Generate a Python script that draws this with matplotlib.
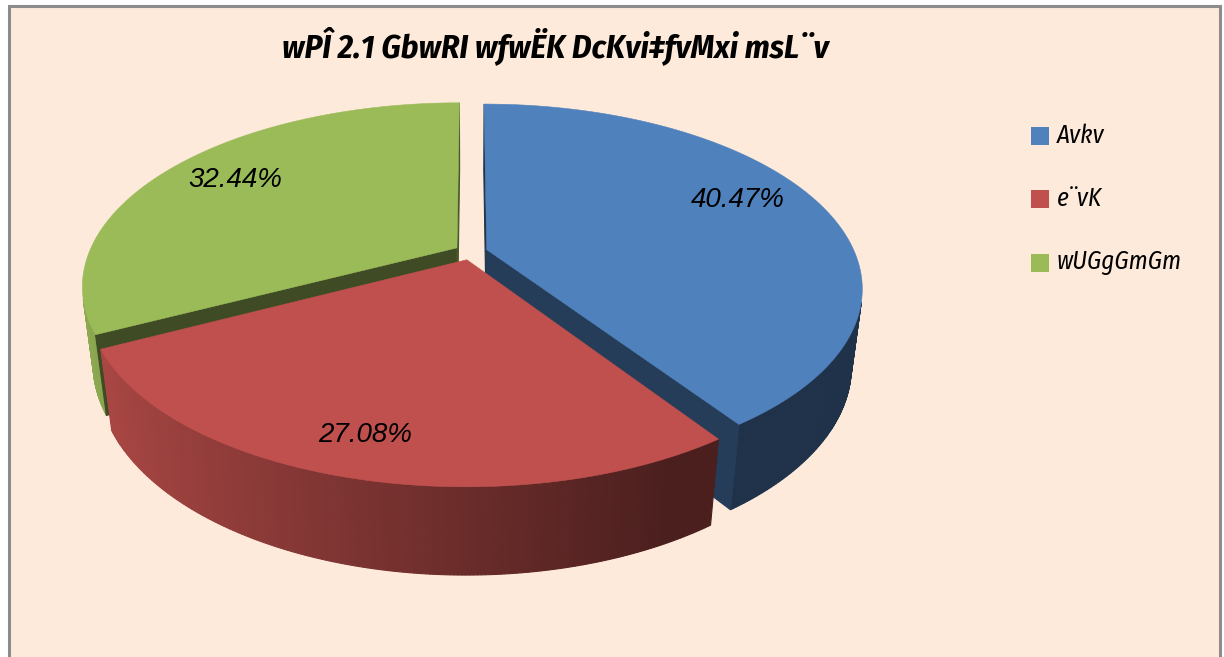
import numpy as np
import matplotlib.pyplot as plt
from matplotlib.patches import Polygon, Rectangle
from matplotlib.colors import to_rgb

# chart data (text is Bijoy-encoded Bangla, kept as it appears)
title = "wPÎ 2.1 GbwRI wfwËK DcKvi‡fvMxi msL¨v"
names = ["Avkv", "e¨vK", "wUGgGmGm"]
shares = [40.47, 27.08, 32.44]
colors = ["#4F81BD", "#C0504D", "#9BBB59"]
pct_labels = ["40.47%", "27.08%", "32.44%"]

# layout / camera (pixel space of the 1224x657 canvas)
CX, CY = 471, 252
FOC, DIST = 1563, 4.25
PHI = np.arcsin(0.48)
THICK = 0.242
EXPLODE = 0.045
label_xy = [(738, 200), (365, 435), (235, 180)]
NARROW = ["Fira Sans Condensed", "Liberation Sans", "DejaVu Sans"]
PLAIN = ["Liberation Sans", "DejaVu Sans"]


def project(X, Y, Z):
    s, c = np.sin(PHI), np.cos(PHI)
    v = Y * s + Z * c
    d = DIST + Y * c - Z * s
    return CX + FOC * X / d, CY - FOC * v / d


def area(pts):
    x, y = pts[:, 0], pts[:, 1]
    return 0.5 * np.sum(x * np.roll(y, -1) - np.roll(x, -1) * y)


def shade(col, k):
    return tuple(np.clip(np.array(to_rgb(col)) * k, 0, 1))


def side_k(theta):
    return np.clip(0.553 + 0.367 * np.cos(np.radians(theta - 270)), 0.39, 1.0)


fig = plt.figure(figsize=(12.24, 6.57), dpi=100)
fig.patch.set_facecolor("white")
ax = fig.add_axes([0, 0, 1, 1])
ax.set_xlim(0, 1224)
ax.set_ylim(657, 0)
ax.axis("off")

ax.add_patch(Rectangle((8.5, 5.5), 1211, 700, fc="#FDEADA", ec="#8C8C8C", lw=2.2, zorder=0))

fr = np.array(shares) / np.sum(shares)
edges = np.concatenate([[0], np.cumsum(fr) * 360])

slices = []
for i in range(len(shares)):
    t0, t1 = edges[i], edges[i + 1]
    tm = np.radians((t0 + t1) / 2)
    ox, oy = EXPLODE * np.sin(tm), EXPLODE * np.cos(tm)
    slices.append((oy, i, t0, t1, ox))

# paint farthest slices first
for oy, i, t0, t1, ox in sorted(slices, reverse=True):
    col = colors[i]
    ts = np.linspace(t0, t1, max(int(t1 - t0), 2) * 2)
    tr = np.radians(ts)
    X, Y = ox + np.sin(tr), oy + np.cos(tr)

    def P(x, y, z):
        return np.array(project(x, y, z))

    top = np.array([P(ox, oy, 0)] + [P(a, b, 0) for a, b in zip(X, Y)])
    ref = np.sign(area(top))
    faces = []
    # curved outer side
    for j in range(len(ts) - 1):
        q = np.array([P(X[j], Y[j], 0), P(X[j], Y[j], -THICK),
                      P(X[j + 1], Y[j + 1], -THICK), P(X[j + 1], Y[j + 1], 0)])
        faces.append((q, shade(col, side_k((ts[j] + ts[j + 1]) / 2))))
    # radial faces
    q0 = np.array([P(ox, oy, 0), P(ox, oy, -THICK), P(X[0], Y[0], -THICK), P(X[0], Y[0], 0)])
    q1 = np.array([P(ox, oy, 0), P(X[-1], Y[-1], 0), P(X[-1], Y[-1], -THICK), P(ox, oy, -THICK)])
    faces.append((q0, shade(col, 0.40)))
    faces.append((q1, shade(col, 0.47)))
    for q, fc in faces:
        if np.sign(area(q)) == ref and abs(area(q)) > 1e-3:
            ax.add_patch(Polygon(q, closed=True, fc=fc, ec=fc, lw=0.8, zorder=2))
    ax.add_patch(Polygon(top, closed=True, fc=col, ec=col, lw=0.4, zorder=2))

for (x, y), t in zip(label_xy, pct_labels):
    ax.text(x, y, t, ha="center", va="center", fontsize=20, style="italic",
            family=PLAIN, zorder=5)

ax.text(555, 46, title, ha="center", va="center", fontsize=24, style="italic",
        weight="bold", family=NARROW, zorder=5)

for i, n in enumerate(names):
    yy = 135.5 + i * 63.5
    ax.add_patch(Rectangle((1031, yy - 9), 18, 18, fc=colors[i], ec="none", zorder=5))
    ax.text(1057, yy, n, ha="left", va="center", fontsize=18, style="italic",
            family=NARROW, zorder=5)

fig.savefig("out.png", dpi=100, facecolor=fig.get_facecolor())
